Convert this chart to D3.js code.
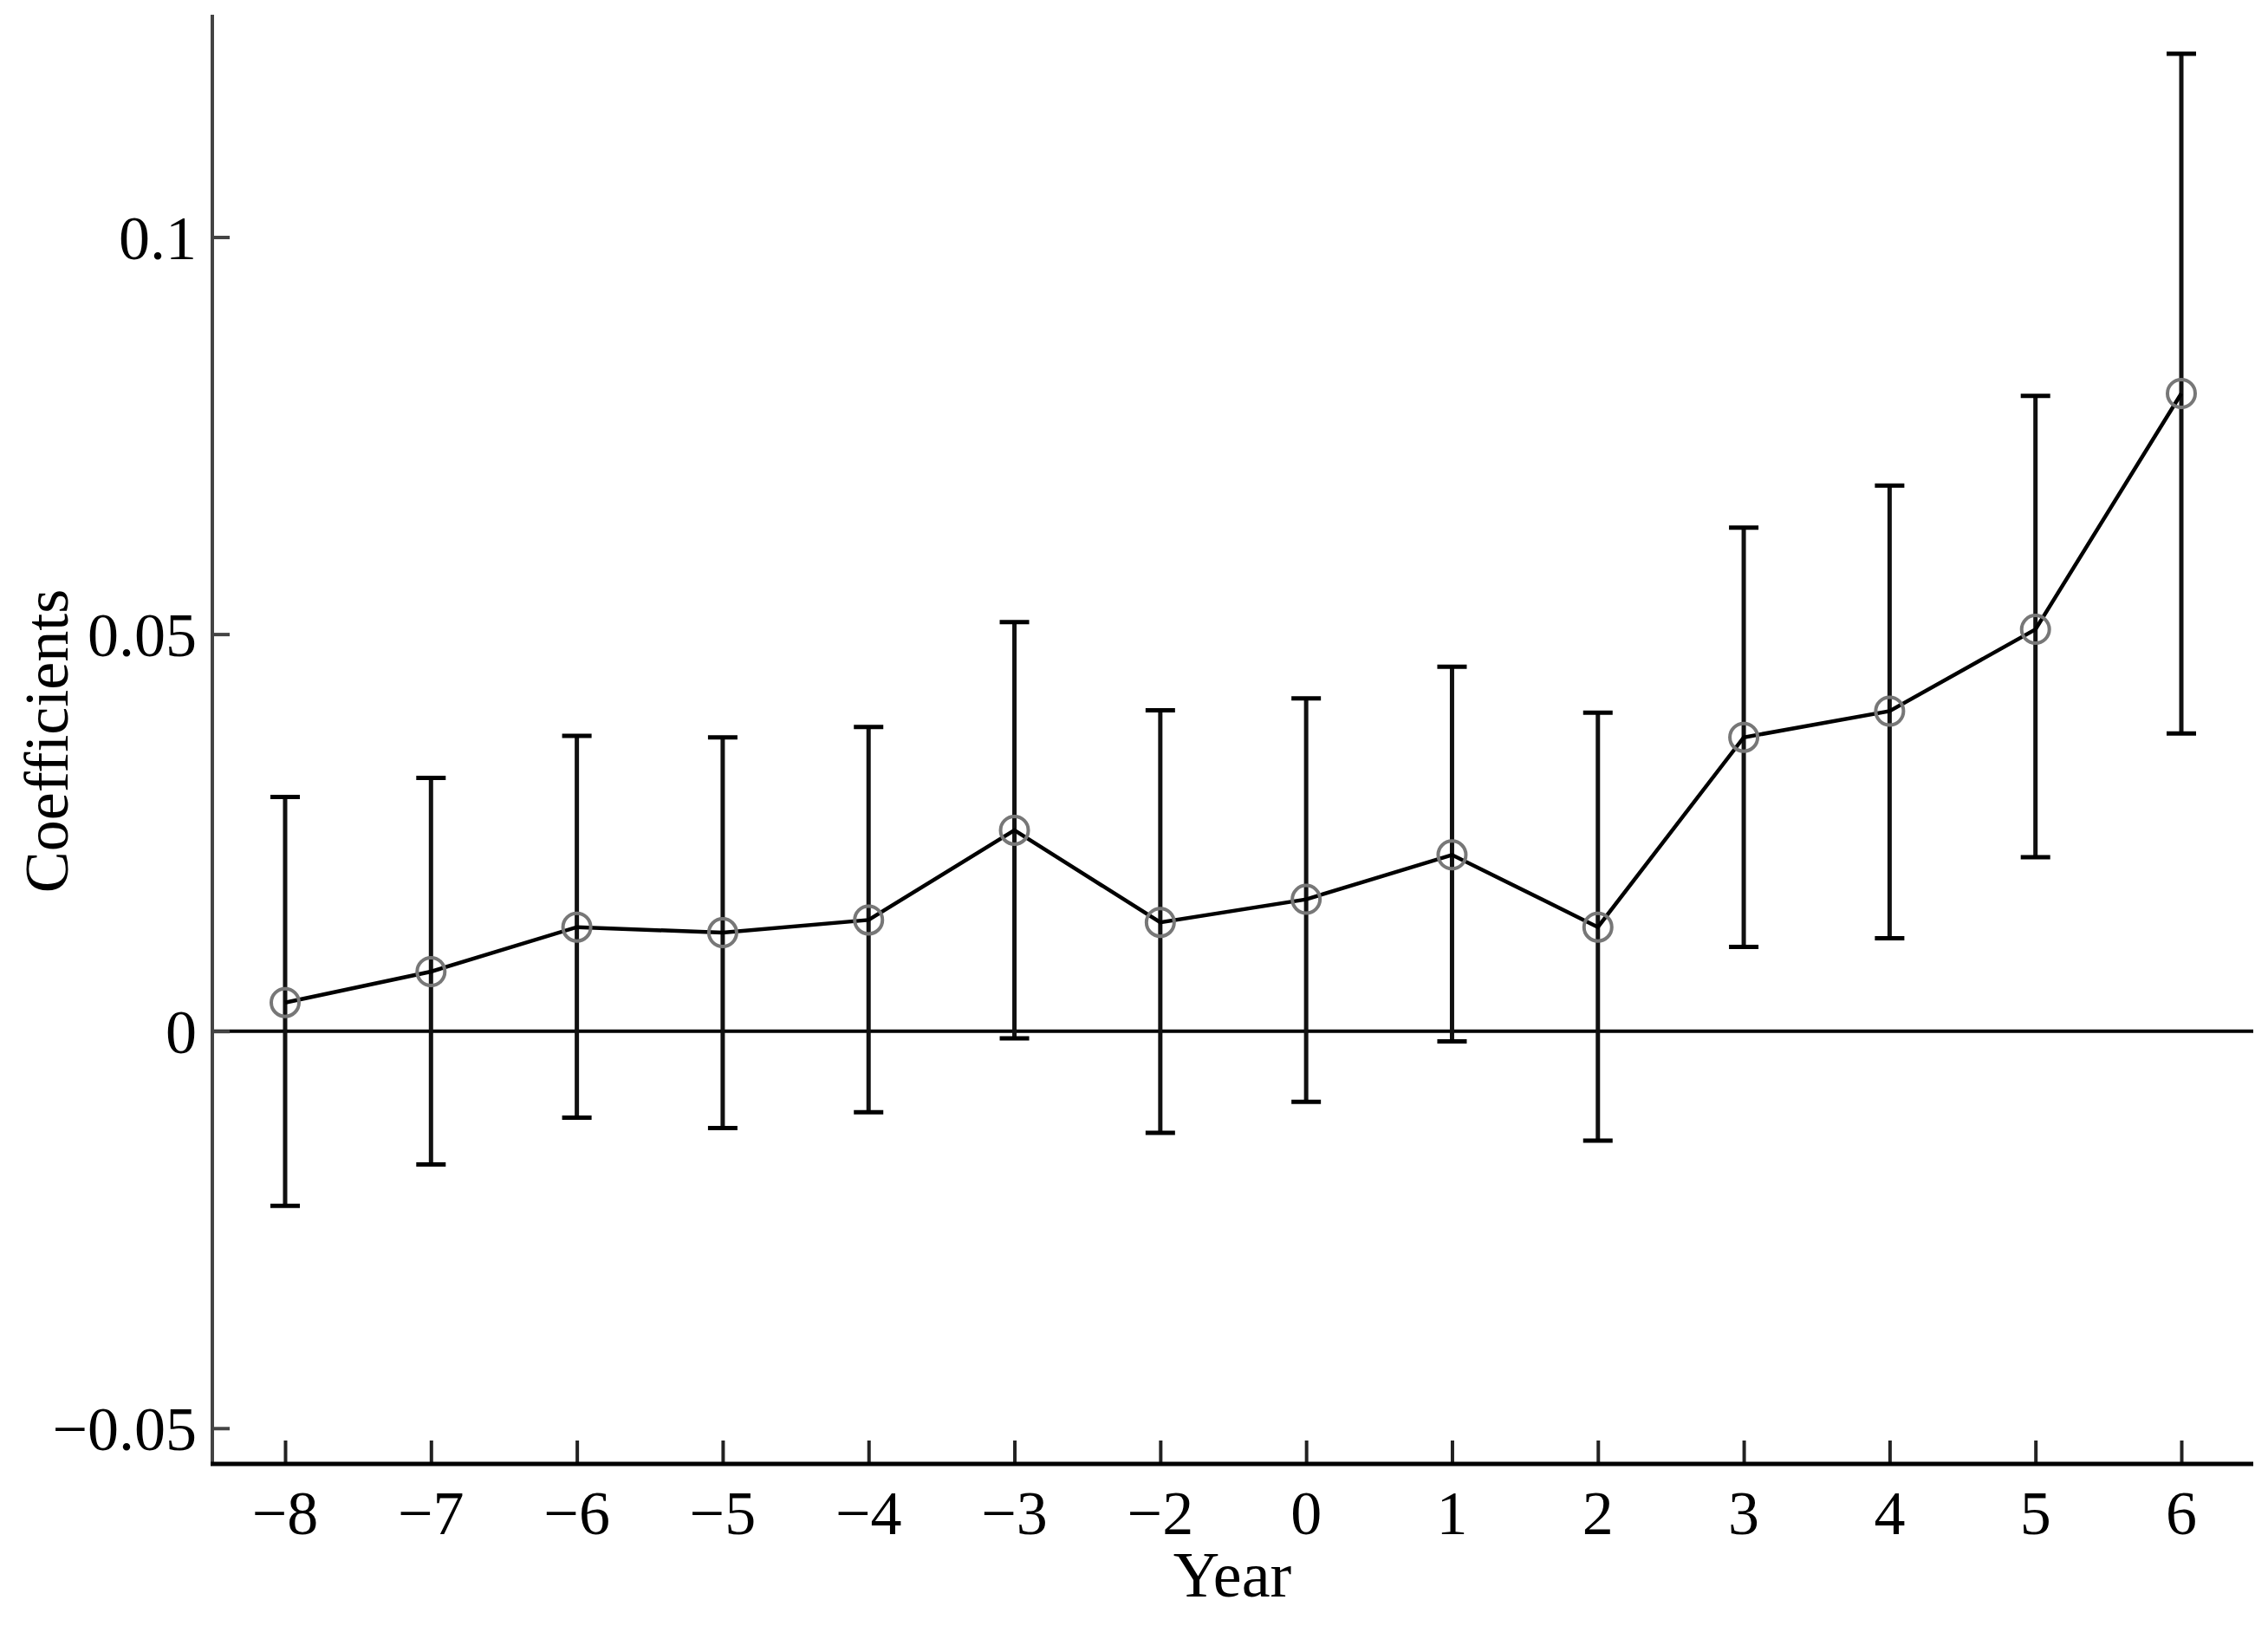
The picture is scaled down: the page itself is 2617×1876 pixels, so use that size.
<!DOCTYPE html><html><head><meta charset="utf-8"><script src="https://cdn.jsdelivr.net/npm/d3@7"></script>
<style>body{margin:0;background:#fff}</style></head><body><svg id="c" width="2617" height="1876"></svg><script>
const years=["−8","−7","−6","−5","−4","−3","−2","0","1","2","3","4","5","6"];
const coef=[0.0036,0.0075,0.0131,0.0124,0.0140,0.0253,0.0137,0.0166,0.0222,0.0131,0.0370,0.0403,0.0506,0.0803];
const upper=[0.0295,0.0319,0.0372,0.0370,0.0383,0.0515,0.0404,0.0419,0.0459,0.0401,0.0634,0.0687,0.0800,0.1231];
const lower=[-0.0220,-0.0168,-0.0109,-0.0122,-0.0102,-0.0009,-0.0128,-0.0089,-0.0013,-0.0138,0.0106,0.0117,0.0219,0.0375];
const yTicks=[-0.05,0,0.05,0.1];
const yTickLabels=["−0.05","0","0.05","0.1"];
const svg=d3.select("#c");
const L=245,R=2600,T=17,B=1689;
const x=d3.scalePoint().domain(years).range([329,2517]);
const y=d3.scaleLinear().domain([-0.0545,0.128]).range([B,T]);
const font="Liberation Serif, Times New Roman, serif";
svg.append("line").attr("x1",L).attr("x2",R).attr("y1",y(0)).attr("y2",y(0)).attr("stroke","#000").attr("stroke-width",4);
const ya=svg.append("g").attr("transform",`translate(${L},0)`).call(d3.axisRight(y).tickValues(yTicks).tickSize(20).tickFormat(""));
ya.select(".domain").remove();
ya.selectAll("line").attr("stroke","#444").attr("stroke-width",4);
svg.append("line").attr("x1",L).attr("x2",L).attr("y1",T).attr("y2",B).attr("stroke","#444").attr("stroke-width",4);
yTicks.forEach((t,i)=>svg.append("text").attr("x",L-18).attr("y",y(t)).attr("dy","0.35em").attr("text-anchor","end").attr("font-family",font).attr("font-size",72).text(yTickLabels[i]));
const xa=svg.append("g").attr("transform",`translate(0,${B})`).call(d3.axisTop(x).tickSize(27).tickFormat(""));
xa.select(".domain").remove();
xa.selectAll("line").attr("stroke","#222").attr("stroke-width",4);
svg.append("line").attr("x1",L-2).attr("x2",R).attr("y1",B).attr("y2",B).attr("stroke","#000").attr("stroke-width",5);
years.forEach(v=>svg.append("text").attr("x",x(v)).attr("y",1770).attr("text-anchor","middle").attr("font-family",font).attr("font-size",72).text(v));
svg.append("text").attr("x",1422).attr("y",1842).attr("text-anchor","middle").attr("font-family",font).attr("font-size",74).text("Year");
svg.append("text").attr("transform",`translate(78,855) rotate(-90)`).attr("text-anchor","middle").attr("font-family",font).attr("font-size",72).text("Coefficients");
const g=svg.append("g");
years.forEach((v,i)=>{
  g.append("line").attr("x1",x(v)).attr("x2",x(v)).attr("y1",y(upper[i])).attr("y2",y(lower[i])).attr("stroke","#111").attr("stroke-width",5);
  [upper[i],lower[i]].forEach(b=>g.append("line").attr("x1",x(v)-17).attr("x2",x(v)+17).attr("y1",y(b)).attr("y2",y(b)).attr("stroke","#000").attr("stroke-width",5));
});
svg.append("path").datum(coef).attr("d",d3.line().x((d,i)=>x(years[i])).y(d=>y(d))).attr("fill","none").attr("stroke","#000").attr("stroke-width",4.5);
svg.selectAll("circle").data(coef).join("circle").attr("cx",(d,i)=>x(years[i])).attr("cy",d=>y(d)).attr("r",16).attr("fill","none").attr("stroke","#777").attr("stroke-width",4);
</script></body></html>
